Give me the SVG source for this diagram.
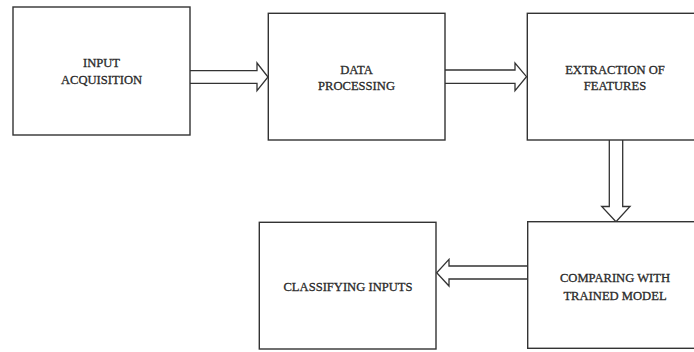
<svg xmlns="http://www.w3.org/2000/svg" width="694" height="352" viewBox="0 0 694 352">
<style>
.box{fill:#fff;stroke:#333;stroke-width:1.4}
.arr{fill:#fff;stroke:#333;stroke-width:1.3;stroke-linejoin:miter}
text{font-family:"Liberation Serif","DejaVu Serif",serif;font-size:12.6px;fill:#2a2a2a;stroke:#2a2a2a;stroke-width:0.3;text-anchor:middle}
</style>
<rect width="694" height="352" fill="#fff"/>
<g id="connectors">
<path class="arr" d="M190,70.7 H257 V63 L268,77 L257,90.7 V83.3 H190"/>
<path class="arr" d="M445,70 H515 V63 L526.5,76.7 L515,90.7 V83.3 H445"/>
<path class="arr" d="M609.3,140 V206.5 H601.7 L616,221.7 L630,206.5 H622.7 V140"/>
<path class="arr" d="M528,266 H449 V259.3 L436.7,272.7 L449,286 V279 H528"/>
</g>
<g id="node-input">
<rect class="box" x="13" y="7" width="177" height="128"/>
<text x="101.5" y="67">INPUT</text>
<text x="101.5" y="84">ACQUISITION</text>
</g>
<g id="node-data">
<rect class="box" x="268.3" y="13.3" width="176.7" height="126.7"/>
<text x="356.5" y="74">DATA</text>
<text x="356.5" y="90">PROCESSING</text>
</g>
<g id="node-extract">
<rect class="box" x="527.3" y="13.3" width="180" height="126.7"/>
<text x="615" y="74">EXTRACTION OF</text>
<text x="615" y="90">FEATURES</text>
</g>
<g id="node-compare">
<rect class="box" x="527.7" y="221.7" width="180" height="126.6"/>
<text x="615" y="282">COMPARING WITH</text>
<text x="615" y="300">TRAINED MODEL</text>
</g>
<g id="node-classify">
<rect class="box" x="259.3" y="222.3" width="176.7" height="126.7"/>
<text x="348" y="291">CLASSIFYING INPUTS</text>
</g>
</svg>
